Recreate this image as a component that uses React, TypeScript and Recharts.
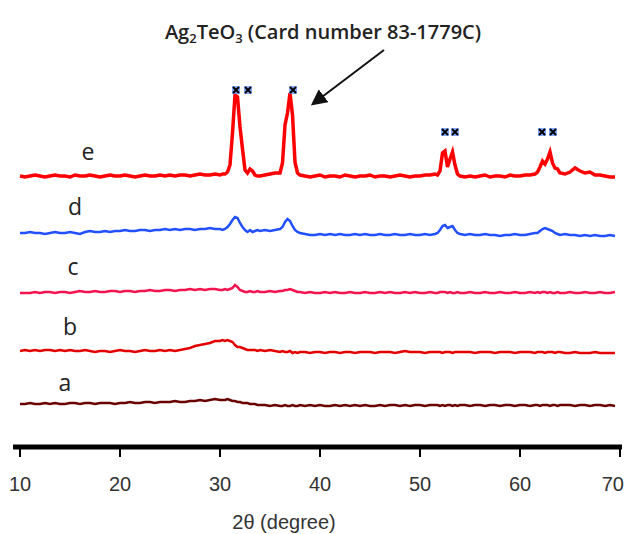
import React from 'react';
import { ComposedChart, Line, Scatter, XAxis, YAxis } from 'recharts';

// 2θ sampling (degrees), denser around the diffraction peaks
const twoTheta = [
  10, 10.5, 11, 11.5, 12, 12.5, 13, 13.5, 14, 14.5, 15, 15.5, 16, 16.5, 17, 17.5, 18, 18.5, 19, 19.5,
  20, 20.5, 21, 21.5, 22, 22.5, 23, 23.5, 24, 24.5, 25, 25.5, 26, 26.5, 27, 27.5, 28, 28.5, 29, 29.5, 30,
  30.25, 30.5, 30.75, 31, 31.25, 31.5, 31.75, 32, 32.25, 32.5, 32.75, 33, 33.25, 33.5, 33.75, 34,
  34.5, 35, 35.5, 36,
  36.25, 36.5, 36.75, 37, 37.25, 37.5, 37.75, 38,
  38.5, 39, 39.5, 40, 40.5, 41, 41.5, 42, 42.5, 43, 43.5, 44, 44.5, 45, 45.5, 46, 46.5, 47, 47.5, 48,
  48.5, 49, 49.5, 50, 50.5, 51, 51.5,
  51.75, 52, 52.25, 52.5, 52.75, 53, 53.25, 53.5, 53.75, 54,
  54.5, 55, 55.5, 56, 56.5, 57, 57.5, 58, 58.5, 59, 59.5, 60, 60.5, 61, 61.5,
  61.75, 62, 62.25, 62.5, 62.75, 63, 63.25, 63.5, 63.75, 64,
  64.5, 65, 65.5, 66, 66.5, 67, 67.5, 68, 68.5, 69, 69.5,
];

// relative intensities (a.u.) of each pattern
const traceE = [
  1, 0, 1, 2, 1, 0, 1, 2, 1, 1, 0, 2, 1, 1, 2, 1, 0, 1, 2, 1, 1, 2, 1, 0, 1, 2, 1, 1, 2, 1, 2, 1, 2, 2, 1, 2, 3, 2, 2, 3, 2,
  3, 3, 5, 12, 44, 82, 80, 50, 28, 7, 4, 8, 6, 2, 1, 1,
  2, 3, 4, 4,
  14, 52, 64, 84, 62, 15, 4, 2,
  1, 0, 1, 2, 0, 1, 1, 0, 2, 1, 0, 1, 1, 2, 0, 1, 1, 0, 1, 2, 1, 0, 1, 1, 2, 2, 3,
  2, 6, 24, 26, 10, 18, 25, 12, 3, 1,
  0, 1, 0, 1, 2, 0, 1, 1, 0, 2, 1, 1, 2, 2, 3,
  5, 10, 16, 13, 18, 25, 14, 9, 8, 4,
  3, 5, 9, 6, 4, 5, 2, 2, 1, 0, 0,
];
const traceD = [
  0, 0, 1, 0, 0, -1, 0, 1, 0, 0, 1, 0, -1, 1, 2, 1, 1, 2, 1, 2, 2, 3, 2, 2, 3, 3, 2, 3, 3, 4, 3, 4, 3, 4, 4, 3, 4, 4, 5, 4, 4,
  3, 4, 6, 9, 13, 16, 15, 10, 6, 3, 1, 3, 1, 2, 3, 2,
  3, 2, 3, 4,
  6, 11, 14, 12, 7, 3, 1, 0,
  -1, -2, -2, -1, -2, -1, -2, -1, -2, -2, -1, -2, -1, -2, -2, -1, -2, -2, -1, -2, -2, -1, -2, -2, -1, -2, -1,
  0, 3, 7, 8, 5, 6, 7, 3, 0, -1,
  -2, -1, -2, -2, -1, -2, -2, -3, -2, -2, -1, -2, -2, -1, 0,
  0, 2, 4, 5, 4, 3, 2, 0, -1, -2,
  -1, -2, -2, -3, -2, -3, -2, -3, -3, -2, -3,
];
const traceC = [
  0, 0, 0, 1, 0, 1, 1, 0, 1, 1, 0, 1, 2, 1, 1, 2, 1, 1, 2, 2, 1, 2, 2, 1, 2, 2, 3, 2, 2, 3, 3, 2, 3, 3, 4, 3, 4, 3, 4, 4, 3,
  3, 4, 3, 4, 5, 8, 6, 3, 2, 1, 1, 2, 1, 1, 2, 1,
  1, 2, 1, 2,
  2, 3, 3, 4, 3, 2, 1, 1,
  0, 1, 0, 0, 1, 0, 1, 0, 0, 1, 0, 0, 1, 0, 0, 1, 0, 1, 0, 0, 1, 0, 1, 0, 0, 1, 0,
  0, 1, 1, 1, 0, 1, 0, 0, 1, 0,
  0, 1, 0, 0, 1, 0, 0, 1, 0, 0, 1, 0, 0, 1, 0,
  1, 0, 1, 1, 0, 1, 0, 0, 1, 0,
  0, 1, 0, 0, 1, 0, 0, 1, 0, 0, 1,
];
const traceB = [
  0, 1, 0, 1, 0, 1, 1, 0, 1, 0, 1, 0, 0, 1, 0, -1, 0, 0, -1, 0, 1, 0, 0, -1, 0, 1, 0, 0, 1, 0, 1, 0,
  1, 2, 3, 5, 6, 7, 8, 10, 10,
  11, 10, 11, 10, 9, 6, 4, 4, 3, 2, 1, 1, 1, 1, 0, 1,
  0, 1, 0, -1,
  0, -1, -1, 0, -2, -1, -2, -1,
  -1, -2, -1, -1, -2, -1, -1, -2, -1, -1, -2, -1, -1, -1, -2, -1, -1, -1, -2, -1, 0, -1, -1, -1, -2, -1, -1,
  -1, -1, -2, -1, -1, -1, -2, -1, -1, -1,
  -1, -1, -2, -1, -1, -1, -2, -1, -1, -1, -2, -1, -1, -1, -2,
  -1, -1, -1, -2, -1, -1, -1, -2, -1, -1,
  -2, -2, -1, -2, -2, -2, -1, -2, -2, -2, -2,
];
const traceA = [
  0, 0, 1, 0, 0, 1, 0, 1, 0, 0, 1, 1, 0, 1, 1, 0, 1, 1, 1, 0, 1, 1, 2, 1, 1, 2, 2, 1, 2, 2, 2, 3, 2, 2, 3, 3, 4, 3, 4, 5, 4,
  4, 4, 5, 4, 3, 3, 2, 2, 1, 1, 1, 0, 0, 0, -1, -1,
  -1, -2, -1, -2,
  -2, -1, -2, -2, -1, -2, -2, -1,
  -2, -1, -2, -1, -2, -2, -1, -2, -1, -2, -1, -2, -1, -2, -2, -1, -2, -1, -1, -2, -1, -2, -1, -1, -2, -1, -1,
  -1, -2, -1, -2, -1, -1, -2, -1, -2, -1,
  -1, -2, -1, -1, -2, -1, -1, -2, -1, -1, -2, -1, -1, -2, -1,
  -1, -2, -1, -1, -1, -2, -1, -1, -2, -1,
  -1, -1, -2, -1, -1, -2, -1, -1, -2, -1, -2,
];

// vertical stacking offsets of the patterns
const offsetA = 43;
const offsetB = 96;
const offsetC = 154;
const offsetD = 214;
const offsetE = 270;

// Ag2TeO3 reflection markers (2θ, height)
const markerTheta = [31.6, 32.8, 37.3, 52.5, 53.5, 62.2, 63.3];
const markerLevel = [357, 357, 357, 315, 315, 315, 315];

const xTicks = [10, 20, 30, 40, 50, 60, 70];
const traceLabels = ['a', 'b', 'c', 'd', 'e'];

const rows = twoTheta.map((t, i) => ({
  x: t,
  a: offsetA + traceA[i],
  b: offsetB + traceB[i],
  c: offsetC + traceC[i],
  d: offsetD + traceD[i],
  e: offsetE + traceE[i],
}));
const markers = markerTheta.map((t, i) => ({ x: t, y: markerLevel[i] }));

const MarkerShape = (props: any) => {
  const { cx, cy } = props;
  if (cx == null || cy == null) return null;
  return (
    <g>
      <rect x={cx - 4} y={cy - 4} width={8} height={8} fill="#5b8fff" opacity={0.75} />
      <path d={`M${cx - 3},${cy - 3}L${cx + 3},${cy + 3}M${cx + 3},${cy - 3}L${cx - 3},${cy + 3}`} stroke="#000" strokeWidth={2} />
    </g>
  );
};

const lastTick = xTicks[xTicks.length - 1];
const XTick = (props: any) => {
  const { x, y, payload } = props;
  const isLast = payload.value === lastTick;
  return (
    <text
      x={isLast ? x + 4 : x}
      y={y + 2}
      dy="0.71em"
      textAnchor={isLast ? 'end' : 'middle'}
      fill="#333"
      fontSize={20}
      fontFamily="'Liberation Sans', Arial, sans-serif"
    >
      {payload.value}
    </text>
  );
};

const labelPos: Record<string, [number, number]> = {
  a: [65, 391],
  b: [70, 335],
  c: [73, 275],
  d: [75, 215],
  e: [88, 160],
};

export default function App() {
  return (
    <div style={{ position: 'absolute', left: 0, top: 0, width: 628, height: 534, background: '#fff' }}>
      <ComposedChart
        width={628}
        height={534}
        data={rows}
        margin={{ top: 77, right: 6, left: 13, bottom: 0 }}
      >
        <XAxis
          dataKey="x"
          type="number"
          domain={[9.3, 70.2]}
          ticks={xTicks}
          interval={0}
          allowDataOverflow
          height={87}
          tickSize={10}
          tickMargin={18}
          axisLine={{ stroke: '#000', strokeWidth: 5 }}
          tickLine={{ stroke: '#000', strokeWidth: 2 }}
          tick={<XTick />}
        />
        <YAxis hide width={0} type="number" domain={[0, 370]} allowDataOverflow />
        <Line dataKey="a" type="linear" stroke="#6a0000" strokeWidth={2.5} dot={false} isAnimationActive={false} />
        <Line dataKey="b" type="linear" stroke="#e30000" strokeWidth={2.5} dot={false} isAnimationActive={false} />
        <Line dataKey="c" type="linear" stroke="#f5134f" strokeWidth={2.5} dot={false} isAnimationActive={false} />
        <Line dataKey="d" type="linear" stroke="#2350ff" strokeWidth={2.5} dot={false} isAnimationActive={false} />
        <Line dataKey="e" type="linear" stroke="#ff0000" strokeWidth={3.5} dot={false} isAnimationActive={false} />
        <Scatter data={markers} dataKey="y" shape={<MarkerShape />} isAnimationActive={false} />
      </ComposedChart>
      <svg
        width={628}
        height={534}
        style={{ position: 'absolute', left: 0, top: 0, pointerEvents: 'none' }}
      >
        <defs>
          <marker id="arrowHead" markerWidth="8" markerHeight="8" refX="6" refY="4" orient="auto" markerUnits="strokeWidth">
            <path d="M0,0 L8,4 L0,8 z" fill="#111" />
          </marker>
        </defs>
        <text
          x={323}
          y={39}
          textAnchor="middle"
          fontFamily="'Open Sans', sans-serif"
          fontSize={20}
          fontWeight={600}
          fill="#222"
        >
          Ag<tspan fontSize={13} dy={4}>2</tspan>
          <tspan dy={-4}>TeO</tspan>
          <tspan fontSize={13} dy={4}>3</tspan>
          <tspan dy={-4}> (Card number 83-1779C)</tspan>
        </text>
        <line x1={384} y1={50} x2={314} y2={103} stroke="#111" strokeWidth={2} markerEnd="url(#arrowHead)" />
        {traceLabels.map((l) => (
          <text
            key={l}
            x={labelPos[l][0]}
            y={labelPos[l][1]}
            textAnchor="middle"
            fontFamily="'Open Sans', sans-serif"
            fontSize={23}
            fill="#222"
          >
            {l}
          </text>
        ))}
        <text
          x={284}
          y={529}
          textAnchor="middle"
          fontFamily="'Liberation Sans', Arial, sans-serif"
          fontSize={20}
          fill="#333"
        >
          2θ (degree)
        </text>
      </svg>
    </div>
  );
}
